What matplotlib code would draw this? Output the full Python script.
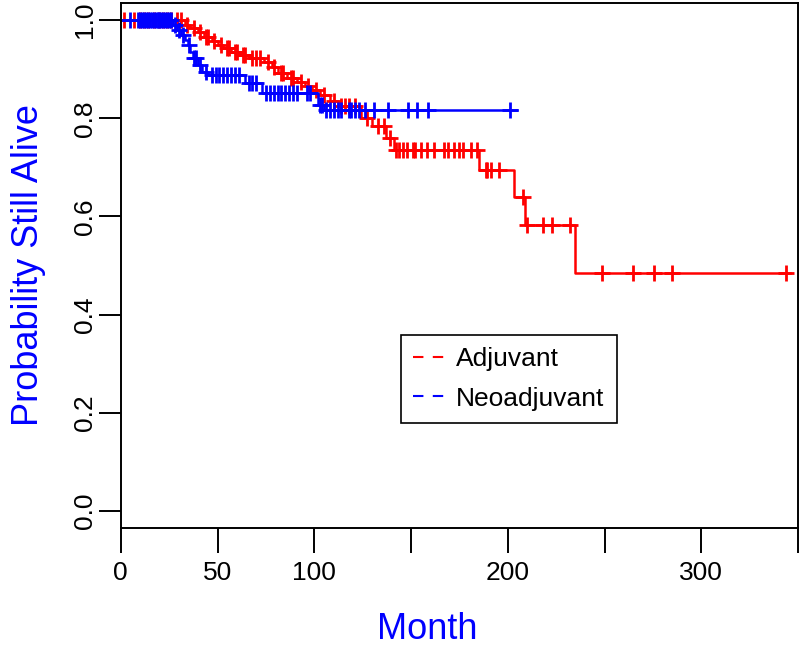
import matplotlib
matplotlib.use("Agg")
import matplotlib.pyplot as plt
from matplotlib.lines import Line2D
import numpy as np

plt.rcParams['font.family'] = ['Liberation Sans', 'DejaVu Sans']

# Adjuvant arm (red): drop times, survival after each drop, censor times
adj_event_t = [33, 36, 40, 43, 47, 50, 53, 57, 61, 66, 74, 78, 81, 86, 91, 95,
               99, 103, 108, 112, 124, 130, 137, 141, 185, 203, 209, 235]
adj_surv = [0.99, 0.985, 0.975, 0.965, 0.958, 0.95, 0.943, 0.936, 0.929, 0.922,
            0.914, 0.904, 0.892, 0.883, 0.874, 0.865, 0.857, 0.848, 0.836, 0.826,
            0.80, 0.785, 0.76, 0.735, 0.694, 0.64, 0.582, 0.485]
adj_censor = [1.5, 7, 10, 12, 14, 17, 20, 22, 24, 26, 29, 31, 34, 38, 41, 44, 45,
              48, 52, 55, 56, 59, 60, 63, 64, 68, 70, 72, 76, 79, 83, 84, 88, 89,
              93, 97, 101, 105, 110, 114, 116, 118, 121, 127, 133, 136, 139, 142,
              144, 146, 148, 151, 152, 155, 158, 162, 167, 169, 172, 175, 177,
              181, 184, 188.5, 189.5, 191.5, 195.6, 208, 210, 218.4, 223, 232,
              248.5, 264.5, 275.4, 285, 343.7]
adj_end = 346

# Neoadjuvant arm (blue)
neo_event_t = [27, 29, 31, 33, 34.5, 36, 37.5, 40, 42, 45, 64, 73, 102, 105]
neo_surv = [0.99, 0.98, 0.97, 0.96, 0.95, 0.935, 0.922, 0.908, 0.895, 0.888,
            0.872, 0.851, 0.827, 0.817]
neo_censor = [5, 9, 10, 11, 12, 13, 14, 15, 16, 17, 18, 19, 20, 21, 22, 23, 24,
              25, 26, 28, 30, 32, 35, 38, 39, 41, 44, 47, 49, 51, 53, 55, 57, 59,
              61, 66, 68, 70, 75, 77, 79, 81, 83, 85, 87, 89, 91, 96, 98, 103,
              104, 106, 108, 110, 112, 114, 118, 119, 121, 123, 126, 131, 138,
              148.5, 153, 159, 201]
neo_end = 205

groups = ["Adjuvant", "Neoadjuvant"]
colors = ["#FF0000", "#0000FF"]

x_ticks = [0, 50, 100, 150, 200, 250, 300, 350]
x_labels = ["0", "50", "100", "", "200", "", "300", ""]
y_ticks = [0.0, 0.2, 0.4, 0.6, 0.8, 1.0]
y_labels = ["0.0", "0.2", "0.4", "0.6", "0.8", "1.0"]


def km_curve(ax, ev_t, ev_s, cens, end, color):
    t = np.array([0] + ev_t + [end], dtype=float)
    s = np.array([1.0] + ev_s + [ev_s[-1]])
    ax.step(t, s, where='post', color=color, lw=1.8)
    idx = np.searchsorted(t, cens, side='right') - 1
    ax.plot(cens, s[idx], ls='none', marker='+', ms=11, mew=2, color=color)


fig = plt.figure(figsize=(8, 6.46), dpi=100)
ax = fig.add_axes([0.151, 0.1827, 0.8465, 0.8127])

km_curve(ax, adj_event_t, adj_surv, adj_censor, adj_end, colors[0])
km_curve(ax, neo_event_t, neo_surv, neo_censor, neo_end, colors[1])

ax.set_xlim(0, 350)
ax.set_ylim(-0.035, 1.035)
ax.set_xticks(x_ticks)
ax.set_xticklabels(x_labels)
ax.set_yticks(y_ticks)
ax.set_yticklabels(y_labels, rotation=90, va='center')
ax.tick_params(axis='x', direction='out', length=18, width=1.4, pad=6, labelsize=19)
ax.tick_params(axis='y', direction='out', length=16, width=1.4, pad=1, labelsize=19)
for sp in ax.spines.values():
    sp.set_linewidth(1.4)

ax.set_xlabel("Month", fontsize=26, color="#0000FF", va='center')
ax.xaxis.set_label_coords(0.453, -0.194)
ax.set_ylabel("Probability Still Alive", fontsize=26, color="#0000FF", va='center')
ax.yaxis.set_label_coords(-0.137, 0.5)

handles = [Line2D([], [], color=c, lw=1.5, ls=(0, (5, 4.5))) for c in colors]
leg = ax.legend(handles, groups, loc='upper left', bbox_to_anchor=(0.4136, 0.3676),
                borderaxespad=0, fontsize=19, fancybox=False, framealpha=1,
                edgecolor='black', handlelength=1.2, handletextpad=0.45,
                borderpad=0.45, labelspacing=0.6)
leg.get_frame().set_linewidth(1.2)

fig.savefig("out.png", dpi=100)
